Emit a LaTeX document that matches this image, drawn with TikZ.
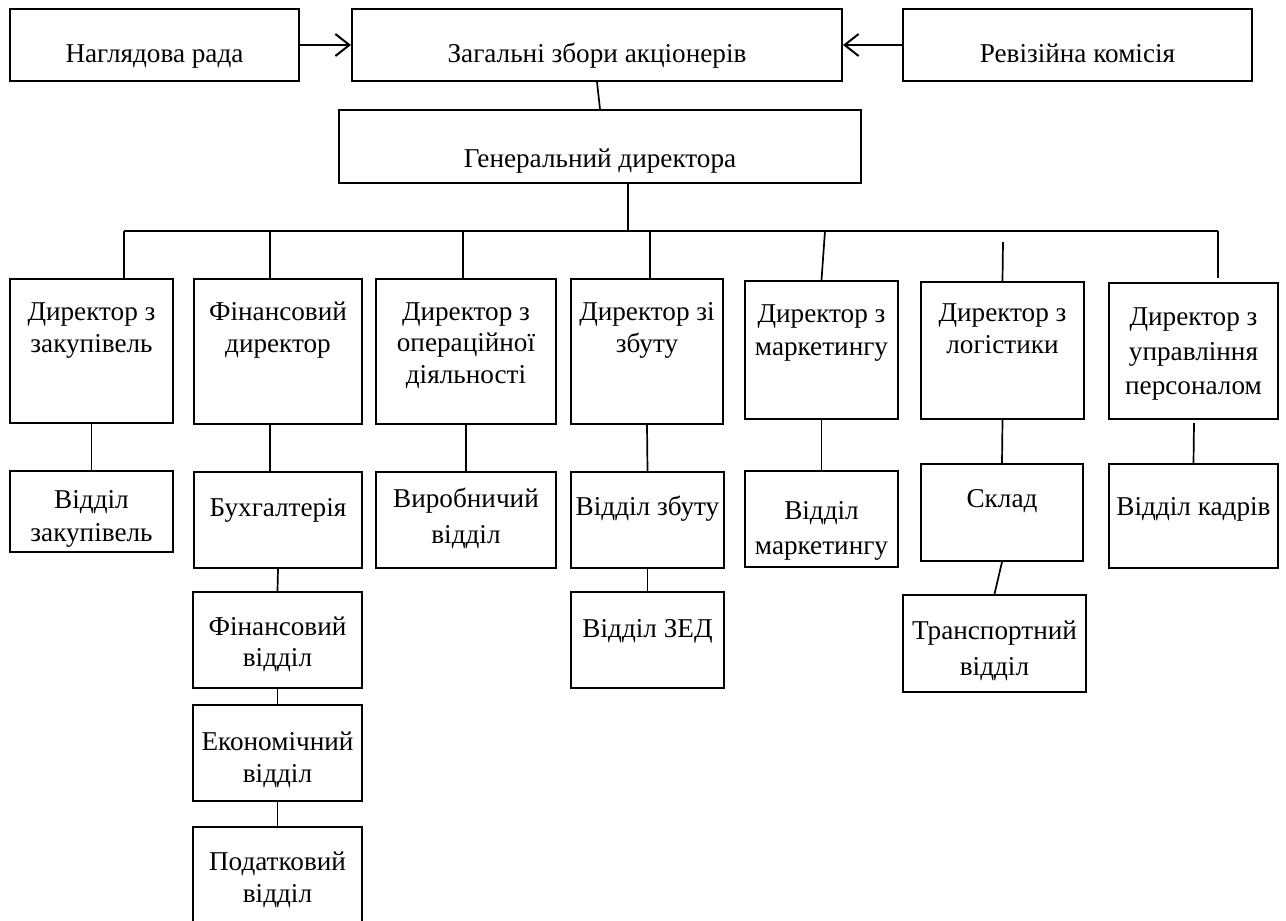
\documentclass[tikz,border=0pt]{standalone}
\usepackage{fontspec}
\setmainfont{Liberation Serif}
\usetikzlibrary{arrows.meta,fit}
% name, x1, y1, x2, y2, first baseline (px), line spacing (pt), text
\newcommand\mybox[8]{%
  \node[box, fit={(#2,#3) (#4,#5)}] (#1) {};
  \node[lbl, font={\fontsize{13.6pt}{#7pt}\selectfont\lineskiplimit=-50pt\lineskip=0pt}]
    (#1t) at ({(#2+#4)/2},{#6-28}) {\rule{0pt}{14pt}#8};}
\begin{document}
\begin{tikzpicture}[x=0.5pt,y=-0.5pt,
  box/.style={draw, line width=1pt, inner sep=0pt},
  lbl/.style={align=center, inner sep=0pt, anchor=north},
  conn/.style={line width=0.85pt},
  arr/.style={line width=1pt, -{Straight Barb[length=7pt,width=11pt,line width=1pt]}}]
\useasboundingbox (0,0) rectangle (1286,921);
% top row
\mybox{nag}{10}{9}{299}{81}{62}{16}{Наглядова рада}
\mybox{zag}{352}{9}{842}{81}{62}{16}{Загальні збори акціонерів}
\mybox{rev}{903}{9}{1252}{81}{62}{16}{Ревізійна комісія}
\mybox{gen}{339}{110}{861}{183}{167}{16}{Генеральний директора}
% directors
\mybox{d1}{10}{279}{173}{423}{320}{16}{Директор з\\закупівель}
\mybox{d2}{194}{279}{362}{424}{320}{16}{Фінансовий\\директор}
\mybox{d3}{376}{279}{556}{424}{320}{15.75}{Директор з\\операційної\\діяльності}
\mybox{d4}{571}{279}{723}{424}{320}{16}{Директор зі\\збуту}
\mybox{d5}{745}{281}{898}{419}{322}{16.5}{Директор з\\маркетингу}
\mybox{d6}{921}{282}{1084}{419}{321}{16}{Директор з\\логістики}
\mybox{d7}{1109}{283}{1278}{419}{325.5}{17.25}{Директор з\\управління\\персоналом}
% departments
\mybox{s1}{10}{471}{173}{552}{508}{16.5}{Відділ\\закупівель}
\mybox{s2}{194}{472}{362}{568}{516}{16}{Бухгалтерія}
\mybox{s3}{376}{472}{556}{568}{507}{18}{Виробничий\\відділ}
\mybox{s4}{571}{472}{724}{568}{515}{16}{Відділ збуту}
\mybox{s5}{745}{471}{898}{567}{519}{17.5}{Відділ\\маркетингу}
\mybox{s6}{921}{464}{1083}{561}{507}{16}{Склад}
\mybox{s7}{1109}{464}{1278}{568}{515}{16}{Відділ кадрів}
% third level
\mybox{f1}{193}{592}{362}{688}{635}{15.5}{Фінансовий\\відділ}
\mybox{ec}{193}{705}{362}{801}{750}{16}{Економічний\\відділ}
\mybox{pod}{193}{827}{362}{940}{870}{16.25}{Податковий\\відділ}
\mybox{zed}{571}{592}{724}{688}{637}{16}{Відділ ЗЕД}
\mybox{tr}{903}{595}{1086}{692}{639}{18}{Транспортний\\відділ}
% arrows
\draw[arr] (nag.east) -- (zag.west);
\draw[arr] (rev.west) -- (zag.east);
\draw[conn] (zag.south) -- (gen.north);
% bus
\coordinate (busL) at (124,231);
\coordinate (busR) at (1218,231);
\coordinate (busC) at (628,231);
\coordinate (b2) at (270,231);
\coordinate (b3) at (463,231);
\coordinate (b4) at (650,231);
\coordinate (b5) at (825,231);
\coordinate (b6) at (1003,242);
\coordinate (e7) at (1218,278);
\draw[conn] (gen.south -| busC) -- (busC);
\draw[conn] (busL) -- (busR);
\draw[conn] (busL) -- (busL |- d1.north);
\draw[conn] (b2) -- (b2 |- d2.north);
\draw[conn] (b3) -- (b3 |- d3.north);
\draw[conn] (b4) -- (b4 |- d4.north);
\draw[conn] (b5) -- (d5.north);
\draw[conn] (b6) -- (d6.north);
\draw[conn] (busR) -- (e7);
% down links
\draw[conn] (d1.south) -- (s1.north);
\coordinate (u2) at (270,424);
\draw[conn] (u2) -- (u2 |- s2.north);
\draw[conn] (d3.south) -- (s3.north);
\draw[conn] (d4.south) -- (s4.north);
\draw[conn] (d5.south) -- (s5.north);
\draw[conn] (d6.south) -- (s6.north);
\coordinate (u7) at (1194,423);
\draw[conn] (u7) -- (s7.north);
\draw[conn] (s2.south) -- (f1.north);
\draw[conn] (f1.south) -- (ec.north);
\draw[conn] (ec.south) -- (pod.north);
\draw[conn] (s4.south) -- (zed.north);
\draw[conn] (s6.south) -- (tr.north);
\end{tikzpicture}
\end{document}
